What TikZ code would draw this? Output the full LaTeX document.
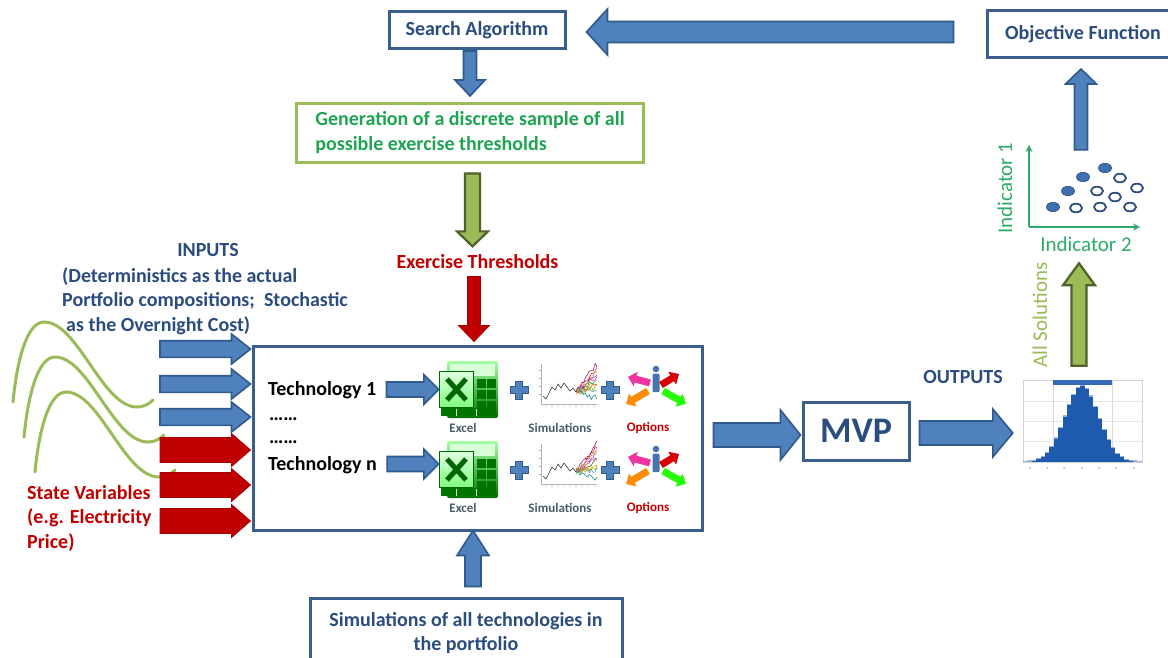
\documentclass[tikz,border=0pt]{standalone}
\usepackage{fontspec}
\setmainfont{Carlito}
\usetikzlibrary{calc,arrows.meta}

\definecolor{boxblue}{HTML}{3A5F8C}
\definecolor{arrblue}{HTML}{4F81BD}
\definecolor{arrdark}{HTML}{30598C}
\definecolor{txtblue}{HTML}{2B4C7E}
\definecolor{darkred}{HTML}{C00000}
\definecolor{leaf}{HTML}{9BBB59}
\definecolor{leafdark}{HTML}{4F6228}
\definecolor{gentxt}{HTML}{1FA454}
\definecolor{sgreen}{HTML}{2EAB6B}
\definecolor{dotblue}{HTML}{3E70B0}
\definecolor{dotedge}{HTML}{2F4F7F}
\definecolor{histblue}{HTML}{1E5AAE}
\definecolor{labgray}{HTML}{4A5A6A}

% block arrow from #2 to #3: shaft half-width #4, head half-width #5, head length #6
\newcommand\fatarrow[6]{%
  \path[#1] let \p1=(#2), \p2=(#3),
      \n1={atan2(\y2-\y1,\x2-\x1)}, \n2={veclen(\x2-\x1,\y2-\y1)} in
      [shift={(\p1)}, rotate=\n1]
      (0,-#4) -- ({\n2-#6},-#4) -- ({\n2-#6},-#5) -- (\n2,0)
      -- ({\n2-#6},#5) -- ({\n2-#6},#4) -- (0,#4) -- cycle;}

\begin{document}
\begin{tikzpicture}[x=1pt,y=-1pt,
  lbl/.style={font=\bfseries\fontsize{20}{24.5}\selectfont},
  box/.style={draw=boxblue, line width=3pt, fill=white, inner sep=0pt, lbl, text=txtblue},
  bluearr/.style={fill=arrblue, draw=arrdark, line width=1.6pt, line join=miter},
  greenarr/.style={fill=leaf, draw=leafdark, line width=2.2pt, line join=miter},
  redarr/.style={fill=darkred, draw=darkred!85!black, line width=0.8pt, line join=miter},
  small/.style={font=\bfseries\fontsize{13}{15}\selectfont},
  wave/.style={draw=leaf, line width=3pt, line cap=round},
  plussign/.pic={\path[fill=arrblue, draw=arrdark, line width=0.8pt]
     (-3.5,-9) -- (3.5,-9) -- (3.5,-3.5) -- (9,-3.5) -- (9,3.5) -- (3.5,3.5)
     -- (3.5,9) -- (-3.5,9) -- (-3.5,3.5) -- (-9,3.5) -- (-9,-3.5) -- (-3.5,-3.5) -- cycle;},
]
\useasboundingbox (0,0) rectangle (1168,657);
\fill[white] (0,0) rectangle (1168,657);

% ---------- boxes ----------
\node[box, minimum width=176, minimum height=37] (search) at (477,30) {Search Algorithm};
\node[box, minimum width=192, minimum height=47] (objf) at (1083,34) {Objective Function};
\node[box, draw=leaf, text=gentxt, minimum width=347, minimum height=59, align=left]
  (gen) at (470,132.5) {Generation of a discrete sample of all\\possible exercise thresholds};
\node[box, minimum width=449, minimum height=184] (main) at (477.5,438) {};
\node[box, minimum width=106, minimum height=58, font=\bfseries\fontsize{36}{40}\selectfont]
  (mvp) at (856,431) {MVP};
\node[box, minimum width=312, minimum height=70, align=center]
  (simbox) at (466,633) {Simulations of all technologies in\\the portfolio};

% ---------- free labels ----------
\node[lbl, text=txtblue] (inputs) at (208,250) {INPUTS};
\node[lbl, text=txtblue, align=left, anchor=north west, inner sep=0pt] (inputsdesc) at (62,267)
  {(Deterministics as the actual\\Portfolio compositions;\ \ Stochastic\\\hspace{4pt}as the Overnight Cost)};
\node[lbl, text=darkred] (exth) at (477.5,262) {Exercise Thresholds};
\node[lbl, text=darkred, align=left, anchor=north west, inner sep=0pt] (statev) at (27,485)
  {State Variables\\(e.g. Electricity\\Price)};
\node[lbl, text=txtblue] (outputs) at (963,377) {OUTPUTS};
\node[rotate=90, text=leaf, font=\fontsize{21}{24}\selectfont] (allsol) at (1040,315) {All Solutions};

% ---------- left: driving curves ----------
\foreach \dx/\dy in {0/0, 11/35, 22/70}{
  \draw[wave, shift={(\dx,\dy)}] (13,402) .. controls (17,360) and (27,322) .. (44,322)
     .. controls (78,322) and (102,407) .. (137,407) .. controls (144,407) and (149,404) .. (153,400);
}

% ---------- input arrows ----------
\foreach \yy [count=\i] in {349,384,417}{
  \coordinate (inb\i) at (160,\yy);
  \fatarrow{bluearr}{inb\i}{$(main.west)+(-1,\yy-438)$}{8.3}{15}{19}
}
\foreach \yy [count=\i] in {450,485,521}{
  \coordinate (inr\i) at (160,\yy);
  \fatarrow{redarr}{inr\i}{$(main.west)+(-1,\yy-438)$}{12.5}{16.5}{19}
}

% ---------- top chain ----------
\fatarrow{bluearr}{$(objf.west)+(-32,-2)$}{$(search.east)+(20,2)$}{10.5}{23}{21}
\fatarrow{bluearr}{$(search.south)+(-7,1)$}{$(search.south)+(-7,46)$}{6.5}{15}{16}
\fatarrow{greenarr}{$(gen.south)+(2.5,10)$}{$(exth.north)+(-5,-5)$}{7.5}{15.5}{15}
\fatarrow{redarr}{$(exth.south)+(-3.5,4)$}{$(main.north)+(-3.5,-3)$}{6.5}{15.5}{16}
\fatarrow{bluearr}{$(simbox.north)+(7,-10)$}{$(main.south)+(-4.5,-1)$}{8}{16}{25}

% ---------- technologies inside the main box ----------
\node[lbl, text=black, anchor=base west, inner sep=0pt] (tech1) at (268,395) {Technology 1};
\node[lbl, text=black, anchor=base west, inner sep=0pt] (dots1) at (269,420) {……};
\node[lbl, text=black, anchor=base west, inner sep=0pt] (dots2) at (269,443) {……};
\node[lbl, text=black, anchor=base west, inner sep=0pt] (techn) at (268,470) {Technology n};

\pgfmathsetseed{11}
\foreach \r in {0,80}{
  \begin{scope}[shift={(0,\r)}]
    % spreadsheet icon
    \node[minimum width=58, minimum height=58, inner sep=0pt] (xl\r) at (468,389) {};
    \shade[top color=green!35!white, bottom color=green!45!black, rounded corners=2pt]
       (447,361) rectangle (498,418);
    \fill[white!85!green] (450,364) rectangle (495,376);
    \foreach \cx in {477,487}{
      \foreach \cy in {379,390,401}{
        \fill[green!45!black] (\cx,\cy) rectangle ++(8.5,9);
      }
    }
    \fill[green!45!black] (441,408) rectangle (496,416);
    \foreach \cx in {456,476}{\fill[white!80!green] (\cx,409) rectangle ++(1.2,7);}
    \shade[top color=green!12!white, bottom color=green!50!white, draw=green!40!black, line width=0.8pt]
       (439,371) rectangle (473,407);
    \draw[green!40!black, line width=5pt] (447,379) -- (466,400) (466,379) -- (447,400);
    \node[small, text=labgray] (xlab\r) at (463,428) {Excel};
    \pic at (519,390) {plussign};
    % simulation chart
    \node[minimum width=62, minimum height=50, inner sep=0pt] (simc\r) at (566,387) {};
    \draw[gray!60, line width=0.5pt] (541,364) -- (541,404) -- (597,404);
    \foreach \t in {370,378,386,394}{\draw[gray!60, line width=0.4pt] (538.5,\t) -- (541,\t);}
    \foreach \t in {546,552,558,564,570,576,582,588,594}{\fill[gray!60] (\t,406.5) circle (0.6);}
    \draw[black!80, line width=0.6pt] plot coordinates {(543,396) (546,399) (549,393) (552,387)
       (555,390) (558,384) (561,388) (564,383) (567,387) (570,391) (573,388) (576,392)};
    \foreach \c/\k in {red/1.2, green!60!black/0.6, blue!70/0.9, orange/0.3, violet/1.35,
                       cyan!70!black/0.1, magenta/0.75, brown/0.45, yellow!70!black/1.0, teal/-0.3,
                       pink!80!red/1.1, lime!70!black/0.2}{
      \draw[\c, line width=0.5pt] plot[domain=0:21, samples=12] ({576+\x},{392-\k*\x+3*rand});
    }
    \node[small, text=labgray] (slab\r) at (560,428) {Simulations};
    \pic at (610,390) {plussign};
    % options icon
    \node[minimum width=60, minimum height=40, inner sep=0pt] (opt\r) at (655,386) {};
    \fill[arrblue!90!black] (656,369) circle (3.3);
    \fill[arrblue!90!black, rounded corners=1pt] (652.5,373.5) rectangle (659.5,392);
    \node[small, text=darkred] (olab\r) at (648,428) {Options};
  \end{scope}
  \fatarrow{fill=magenta!80!white}{650,383+\r}{628,377+\r}{3.5}{7.5}{8}
  \fatarrow{fill=red!85!black}{661,385+\r}{679,374+\r}{3.5}{7.5}{8}
  \fatarrow{fill=orange!90!yellow}{648,391+\r}{626,404+\r}{3.5}{7.5}{8}
  \fatarrow{fill=green!80!lime}{663,391+\r}{686,404+\r}{3.5}{7.5}{8}
}
\coordinate (ta1) at ($(tech1.base east)+(10,-5.5)$);
\coordinate (tan) at ($(techn.base east)+(10,-6)$);
\fatarrow{bluearr}{ta1}{$(xl0.west|-ta1)$}{7.5}{15}{15}
\fatarrow{bluearr}{tan}{$(xl80.west|-tan)$}{7.5}{15}{15}

% ---------- outputs ----------
\coordinate (mo) at ($(main.east)+(10,-3)$);
\fatarrow{bluearr}{mo}{$(mvp.west|-mo)+(-1,0)$}{12}{25}{20}
\node[minimum width=120, minimum height=86, inner sep=0pt] (hist) at (1082,421) {};
\coordinate (ho) at ($(mvp.east)+(9,2)$);
\fatarrow{bluearr}{ho}{$(hist.west|-ho)+(-9,0)$}{12}{24}{20}

% histogram of the solutions
\draw[gray!35, line width=0.5pt] (1023,380) rectangle (1142,462);
\foreach \gx in {1053,1112}{\draw[gray!30, line width=0.5pt] (\gx,380) -- (\gx,462);}
\foreach \gy in {401,421,441}{\draw[gray!20, line width=0.5pt] (1023,\gy) -- (1142,\gy);}
\foreach \i in {0,...,26}{
  \pgfmathsetmacro\xa{1023+\i*4.4}
  \pgfmathsetmacro\dd{(\xa+2.2-1082)/17}
  \pgfmathsetmacro\hh{76*exp(-\dd*\dd/2)+1}
  \fill[histblue] (\xa,462) rectangle ({\xa+4.45},{462-\hh});
  \fill[arrblue!60!white] (\xa,{462-\hh}) rectangle ({\xa+4.45},{463.2-\hh});
}
\fill[histblue!90!white] (1053,379.5) rectangle (1112,385);
\foreach \t in {1030,1047,1064,1082,1099,1116,1134}{\fill[gray!55] (\t,468) circle (1);}

% ---------- all solutions ----------
\node[minimum width=120, minimum height=100, inner sep=0pt] (scat) at (1078,190) {};
\fatarrow{greenarr}{$(hist.north)+(-3,-12)$}{$(scat.south)+(1,23)$}{7.5}{16}{22}
\draw[sgreen, line width=1.6pt, -{Stealth[length=7pt,width=7pt]}] (1029,227) -- (1029,145);
\draw[sgreen, line width=1.6pt, -{Stealth[length=7pt,width=7pt]}] (1029,227) -- (1140,227);
\foreach \px/\py in {1053/207, 1068/191, 1083/177, 1105/168}{
  \fill[dotblue, draw=dotedge, line width=0.6pt] (\px,\py) ellipse [x radius=6.5, y radius=4.7];
}
\foreach \px/\py in {1076/208, 1100/207, 1130/207, 1097/191, 1115/197, 1120/178, 1137/188}{
  \draw[dotedge, line width=1.8pt, fill=white] (\px,\py) ellipse [x radius=6, y radius=4.3];
}
\node[rotate=90, text=sgreen, font=\fontsize{21}{24}\selectfont] (ind1) at (1005,188) {Indicator 1};
\node[text=sgreen, font=\fontsize{21}{24}\selectfont] (ind2) at (1086,244) {Indicator 2};
\fatarrow{bluearr}{$(scat.north)+(3,10)$}{$(objf.south)+(-2,10)$}{6.5}{15.5}{15}

\end{tikzpicture}
\end{document}
